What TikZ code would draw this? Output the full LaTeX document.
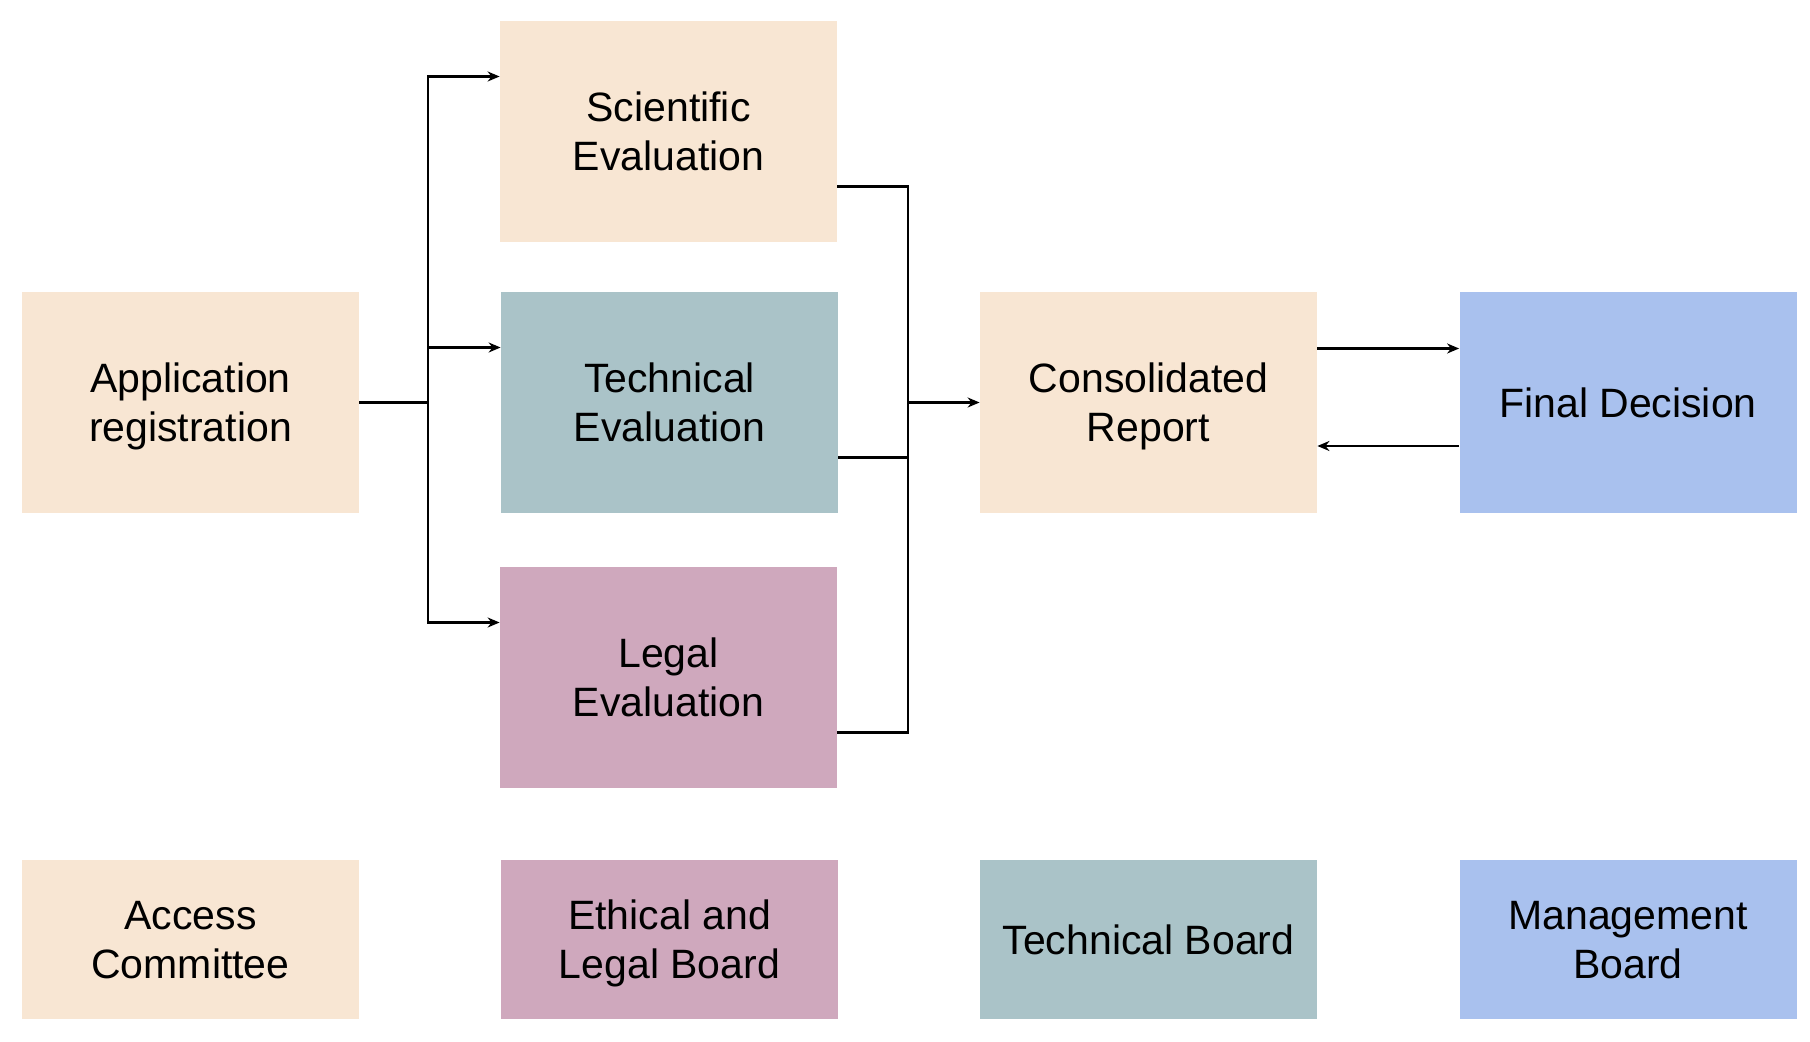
\documentclass[tikz,border=0pt]{standalone}
\usepackage{fontspec}
\setmainfont{Liberation Sans}
\usetikzlibrary{arrows.meta}

\definecolor{peach}{RGB}{248,230,211}
\definecolor{slate}{RGB}{170,195,200}
\definecolor{mauve}{RGB}{207,168,189}
\definecolor{skyblue}{RGB}{169,193,238}

\begin{document}
\begin{tikzpicture}[x=0.5pt, y=-0.5pt,
    box/.style={minimum width=168.5pt, minimum height=110.5pt, align=center,
      inner sep=0pt, text depth=0pt, font=\fontsize{20.5}{24.5}\selectfont},
    legend/.style={box, minimum height=79.5pt},
    link/.style={line width=1.1pt},
    arrow/.style={link, -{Stealth[length=6pt, width=5pt]}}]

  \useasboundingbox (0,0) rectangle (1810,1042);

  \node[box, fill=peach] (app) at (190.5, 402.5) {Application\\registration};
  \node[box, fill=peach] (sci) at (668.5, 131.5) {Scientific\\Evaluation};
  \node[box, fill=slate] (tech) at (669.5, 402.5) {Technical\\Evaluation};
  \node[box, fill=mauve] (legal) at (668.5, 677.5) {Legal\\Evaluation};
  \node[box, fill=peach] (report) at (1148.5, 402.5) {Consolidated\\Report};
  \node[box, fill=skyblue] (decision) at (1628, 402.5) {Final Decision};

  \node[legend, fill=peach] (access) at (190.5, 939.5) {Access\\Committee};
  \node[legend, fill=mauve] (ethics) at (669.5, 939.5) {Ethical and\\Legal Board};
  \node[legend, fill=slate] (techboard) at (1148.5, 939.5) {Technical Board};
  \node[legend, fill=skyblue] (mgmt) at (1628, 939.5) {Management\\Board};

  \coordinate (split) at (428, 402.5);
  \coordinate (merge) at (908, 402.5);

  \draw[link] (app.east) -- (split);
  \foreach \n in {sci, tech, legal} {
    \draw[arrow] (split) |- ([yshift=27.5pt]\n.west);
    \draw[link] ([yshift=-27.5pt]\n.east) -| (merge);
  }
  \draw[arrow] (merge) -- (report.west);

  \draw[arrow] ([yshift=27pt]report.east) -- ([yshift=27pt]decision.west);
  \draw[arrow] ([yshift=-21.75pt]decision.west) -- ([yshift=-21.75pt]report.east);

\end{tikzpicture}
\end{document}
